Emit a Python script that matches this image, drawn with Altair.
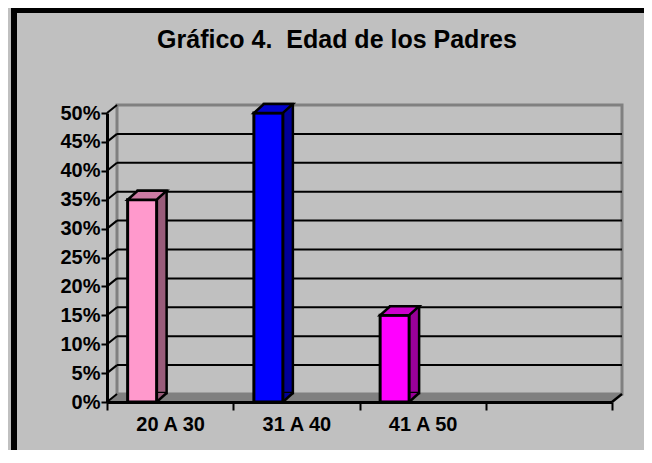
import altair as alt
import pandas as pd

# ---- data ----
categories = ["20 A 30", "31 A 40", "41 A 50", ""]
bar_categories = ["20 A 30", "31 A 40", "41 A 50"]
percentages = [0.35, 0.50, 0.15]
front_colors = ["#FF99CC", "#0000FF", "#FF00FF"]
top_colors = ["#CC7AA3", "#0000CC", "#CC00CC"]
side_colors = ["#995C7A", "#000099", "#990099"]
tick_values = [0, 0.05, 0.10, 0.15, 0.20, 0.25, 0.30, 0.35, 0.40, 0.45, 0.50]
grid_values = [0.05, 0.10, 0.15, 0.20, 0.25, 0.30, 0.35, 0.40, 0.45]
title_text = "Gráfico 4.\u00a0 Edad de los Padres"

# ---- layout (pixels) ----
W, H = 505, 289
PAD_L, PAD_T, PAD_R, PAD_B = 99, 105, 32, 48
DEPTH_X, DEPTH_Y = 10, -8
FONT = "Liberation Sans"
GREY = "#C0C0C0"
WALL = "#808080"

bars = pd.DataFrame({
    "cat": bar_categories,
    "pct": percentages,
    "front": front_colors,
    "top": top_colors,
    "side": side_colors,
})
one = pd.DataFrame({"k": [0]})
ticks_df = pd.DataFrame({"v": tick_values})
grid_df = pd.DataFrame({"v": grid_values})

x_scale = alt.Scale(domain=categories, paddingInner=0, paddingOuter=0)
y_scale = alt.Scale(domain=[0, 0.5], nice=False, zero=True)

x_axis = alt.Axis(
    labelAngle=0, labelFont=FONT, labelFontSize=20, labelFontWeight="bold",
    labelColor="black", tickBand="extent", tickSize=8, tickWidth=2,
    tickColor="black", domainColor="black", domainWidth=3, labelPadding=4,
    zindex=1, labelOverlap=False,
)
y_axis = alt.Axis(
    values=tick_values, format=".0%", labelFont=FONT, labelFontSize=20,
    labelFontWeight="bold", labelColor="black", tickSize=6, tickWidth=2,
    tickColor="black", domainColor="black", domainWidth=3, labelPadding=1,
    grid=False, zindex=1, labelOverlap=False,
)

X = alt.X("cat:N", scale=x_scale, axis=x_axis, title=None)
Y = alt.Y("pct:Q", scale=y_scale, axis=y_axis, title=None)
Yv = alt.Y("v:Q", scale=y_scale, axis=y_axis, title=None)
Y0 = alt.YDatum(0, scale=y_scale, axis=y_axis, title=None)
Y50 = alt.YDatum(0.5, scale=y_scale, axis=y_axis, title=None)

# thick black frame on left and top only
frame_left = alt.Chart(one).mark_rule(color="black", strokeWidth=6).encode(
    x=alt.value(-PAD_L + 6), y=alt.value(-PAD_T), y2=alt.value(H + PAD_B))
frame_top = alt.Chart(one).mark_rule(color="black", strokeWidth=6).encode(
    x=alt.value(-PAD_L + 3), x2=alt.value(W + PAD_R),
    y=alt.value(-PAD_T + 2))

# floor of the 3D box
floor = alt.Chart(one).mark_point(
    shape=f"M0,0 L{W},0 L{W+DEPTH_X},{DEPTH_Y} L{DEPTH_X},{DEPTH_Y} Z",
    size=4, filled=True, fill=WALL, strokeWidth=0, opacity=1,
).encode(x=alt.value(0), y=Y0)

# back wall outline
wall = alt.Chart(one).mark_rect(
    fill="transparent", stroke=WALL, strokeWidth=3,
    yOffset=DEPTH_Y, y2Offset=DEPTH_Y,
).encode(x=alt.value(DEPTH_X), x2=alt.value(W + DEPTH_X), y=Y50,
         y2=alt.Y2Datum(0))

# gridlines on back wall
grid = alt.Chart(grid_df).mark_rule(
    color="black", strokeWidth=2, yOffset=DEPTH_Y
).encode(x=alt.value(DEPTH_X), x2=alt.value(W + DEPTH_X), y=Yv)

# diagonal lines on the side wall
diag = alt.Chart(ticks_df).mark_point(
    shape=f"M0,0 L{DEPTH_X},{DEPTH_Y}", size=4, filled=False,
    stroke="black", strokeWidth=2, opacity=1,
).encode(x=alt.value(0), y=Yv)

diag_right = alt.Chart(one).mark_point(
    shape=f"M0,0 L{DEPTH_X},{DEPTH_Y}", size=4, filled=False,
    stroke="black", strokeWidth=2.5, opacity=1,
).encode(x=alt.value(W), y=Y0)

# bars: geometry offsets
BW = 29
OFF = -28
L = OFF - BW / 2
R = OFF + BW / 2
BDX, BDY = 10, -9

side = alt.Chart(bars).mark_bar(
    width=BW, xOffset=OFF + BDX, yOffset=BDY, y2Offset=BDY,
    stroke="black", strokeWidth=2.5, opacity=1, strokeJoin="miter",
).encode(x=X, y=Y, fill=alt.Fill("side:N", scale=None))

side_tri = alt.Chart(bars).mark_point(
    shape=f"M{R},0 L{R+BDX},{BDY} L{R},{BDY} Z", size=4, filled=True,
    strokeWidth=0, opacity=1,
).encode(x=X, y=Y0, fill=alt.Fill("side:N", scale=None))

side_edge = alt.Chart(bars).mark_point(
    shape=f"M{R},0 L{R+BDX},{BDY}", size=4, filled=False,
    stroke="black", strokeWidth=2.5, opacity=1,
).encode(x=X, y=Y0)

front = alt.Chart(bars).mark_bar(
    width=BW, xOffset=OFF, stroke="black", strokeWidth=3, opacity=1,
    strokeJoin="miter",
).encode(x=X, y=Y, fill=alt.Fill("front:N", scale=None))

top = alt.Chart(bars).mark_point(
    shape=f"M{L},0 L{R},0 L{R+BDX},{BDY} L{L+BDX},{BDY} Z", size=4,
    filled=True, stroke="black", strokeWidth=2.5, opacity=1,
    strokeJoin="miter",
).encode(x=X, y=Y, fill=alt.Fill("top:N", scale=None))

title = alt.Chart(one).mark_text(
    text=title_text, font=FONT, fontSize=25, fontWeight="bold",
    color="black", align="center", baseline="alphabetic",
).encode(x=alt.value(230), y=alt.value(-65))

chart = alt.layer(
    frame_left, frame_top, floor, wall, grid, diag, diag_right, side,
    side_tri, side_edge, front, top, title,
).properties(
    width=W, height=H,
    autosize=alt.AutoSizeParams(type="none"),
    padding={"left": PAD_L, "top": PAD_T, "right": PAD_R, "bottom": PAD_B},
    background=GREY,
).configure_view(stroke=None)

chart.save("out.html", embed_options={"renderer": "svg", "actions": False})
